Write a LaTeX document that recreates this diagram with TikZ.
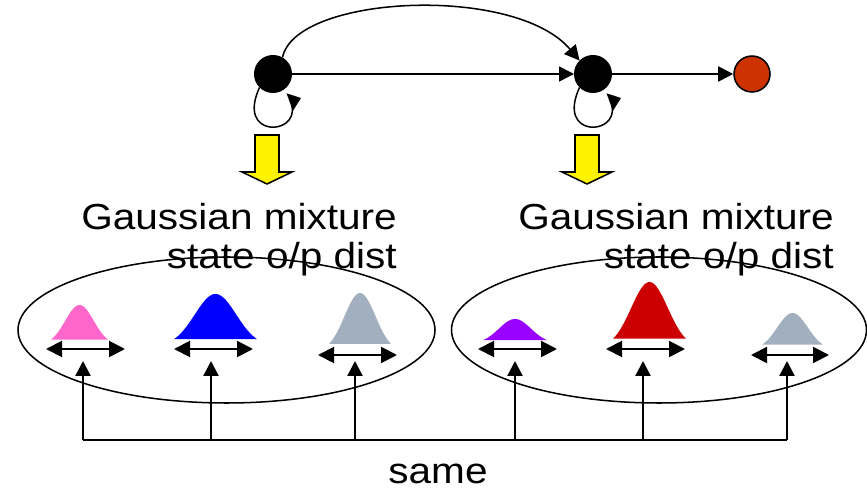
\documentclass[tikz,border=0pt]{standalone}
\usepackage{fontspec}
\setmainfont{Liberation Sans}
\newfontfamily\labelfont[FakeStretch=1.12]{Liberation Sans}
\usetikzlibrary{calc,positioning,arrows.meta}
\tikzset{>={Triangle[width=0.45cm,length=0.45cm]}}

\definecolor{bellpink}{HTML}{FF66CC}
\definecolor{bellblue}{HTML}{0000FF}
\definecolor{bellgray}{HTML}{A1AFBE}
\definecolor{bellpurple}{HTML}{9900FF}
\definecolor{bellred}{HTML}{CC0000}
\definecolor{endred}{HTML}{CC3300}

% bell: colour, centre x, half width, base y, peak y
\newcommand\bellcurve[5]{%
  \fill[#1] plot[domain=-2:2, samples=41, smooth]
    ({#2+#3*\x/2}, {#4-(#4-#5)*(exp(-\x*\x/2)-0.1)/0.9}) -- cycle;}

\begin{document}
\begin{tikzpicture}[
x=0.03cm, y=-0.03cm,
state/.style = {circle, fill=black, inner sep=0pt, outer sep=0pt,
                minimum size=1.14cm},
final/.style = {circle, draw=black, line width=1.3pt, fill=endred,
                inner sep=0pt, minimum size=1.08cm},
link/.style  = {line width=1.3pt, ->},
loopy/.style = {line width=1.3pt,
                -{Triangle[width=0.55cm,length=0.36cm]}},
yarrow/.style = {draw=black, line width=1.3pt, fill=yellow},
label/.style = {font=\labelfont\fontsize{30.9}{34}\selectfont,
                inner sep=0pt, align=right},
width/.style = {line width=1.7pt,
                {Triangle[width=0.48cm,length=0.48cm]}-{Triangle[width=0.48cm,length=0.48cm]}},
tie/.style   = {line width=2pt},
]
\useasboundingbox (0,0) rectangle (867,489);

% the chain of states
\node (s1) [state] at (273,74) {};
\node (s2) [state] at (593,74) {};
\node (s3) [final] at (752,74) {};
\draw[link] (s1) -- (s2);
\draw[link] (s2) -- (s3);
\draw[link] (s1.60) .. controls (295,-5) and (515,-16) .. (s2.135);

% self loops
\coordinate (l1) at (301,98);
\coordinate (l2) at (621,98);
\draw[loopy] (s1.225) .. controls (236,138) and (298,136) .. (292,106)
             to[out=80, in=200] (l1);
\draw[loopy] (s2.225) .. controls (556,138) and (618,136) .. (612,106)
             to[out=80, in=200] (l2);

% emission arrows
\draw[yarrow] (255,135) -- ++(24,0) -- ++(0,37) -- ++(13,0)
              -- ++(-25,12) -- ++(-25,-12) -- ++(13,0) -- cycle;
\draw[yarrow] (575,135) -- ++(24,0) -- ++(0,37) -- ++(13,0)
              -- ++(-25,12) -- ++(-25,-12) -- ++(13,0) -- cycle;

\node (gm1) [label, anchor=base east] at (397,269)
      {Gaussian mixture\\state o/p dist};
\node (gm2) [label, anchor=base east] at (834,269)
      {Gaussian mixture\\state o/p dist};

% the two mixtures
\draw[line width=1.3pt] (226.5,330) ellipse [x radius=208.5, y radius=73];
\draw[line width=1.3pt] (659,330) ellipse [x radius=207.5, y radius=73];

\bellcurve{bellpink}{79.5}{28.5}{341}{305}
\bellcurve{bellblue}{215.5}{41.5}{341}{294}
\bellcurve{bellgray}{360}{31}{346}{293}
\bellcurve{bellpurple}{515}{32}{341}{319}
\bellcurve{bellred}{649.5}{36.5}{341}{282}
\bellcurve{bellgray}{792.5}{30.5}{346}{313}

% widths of the components
\foreach \i/\xa/\xb/\y in {1/46/125/349, 2/174/253/349, 3/318/397/355,
                          4/478/557/349, 5/606/685/349, 6/751/829/355}{
  \coordinate (wa\i) at (\xa,\y);
  \coordinate (wb\i) at (\xb,\y);
  \draw[width] (wa\i) -- (wb\i);
}

% tied widths
\foreach \i/\x in {1/83, 2/211, 3/355, 4/515, 5/643, 6/787}{
  \coordinate (b\i) at (\x,440);
  \coordinate (t\i) at (\x,361);
  \draw[tie, -{Triangle[width=0.45cm,length=0.45cm]}] (b\i) -- (t\i);
}
\draw[tie] (b1) -- (b6);

\node (same) [label, anchor=base] at (438,483) {same};
\end{tikzpicture}
\end{document}
